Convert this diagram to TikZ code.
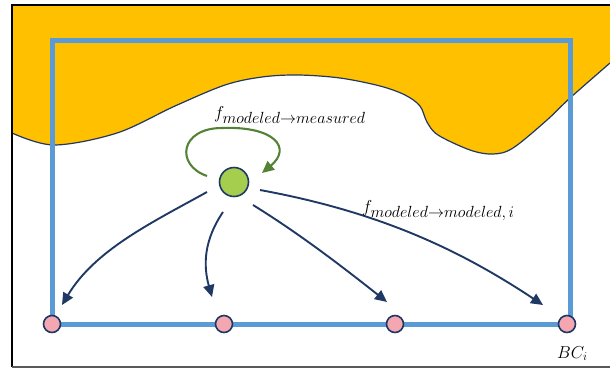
\documentclass[tikz,border=0pt]{standalone}
\usepackage{graphicx}
\usetikzlibrary{arrows.meta}

\definecolor{sand}{HTML}{FFC000}
\definecolor{edgeblue}{HTML}{5B9BD5}
\definecolor{navy}{HTML}{1F3864}
\definecolor{leaf}{HTML}{548235}
\definecolor{lime}{HTML}{A6CE4E}
\definecolor{rose}{HTML}{F4A6B1}

% subscript set at a size of its own
\newcommand{\bigsub}[1]{\mbox{\fontsize{14.4}{16}\selectfont\scalebox{1.12}{$#1$}}}

\begin{document}
\begin{tikzpicture}[x=1pt,y=-1pt,
  flow/.style={draw=navy, line width=1.9pt, -{Triangle[length=12pt,width=11pt]}},
  loopflow/.style={draw=leaf, line width=2.1pt, -{Triangle[length=12pt,width=11pt]}},
  boundary/.style={draw=edgeblue, line width=5pt},
  bcnode/.style={circle, draw=navy, fill=rose, line width=1.6pt, minimum size=17pt, inner sep=0pt},
  srcnode/.style={circle, draw=navy, fill=lime, line width=1.6pt, minimum size=29pt, inner sep=0pt},
  lbl/.style={inner sep=0pt, anchor=base west, font=\fontsize{18}{20}\selectfont}]
\useasboundingbox (0,0) rectangle (610,368);

% yellow region above the shoreline
\fill[sand] (12,5) -- plot[smooth,tension=0.55] coordinates {
  (12,133) (54,145) (117,133) (175,106) (225,85) (262,77) (298,75) (340,78) (380,86)
  (405,95) (420,106) (427,122) (438,135) (470,150) (493,154) (513,148)
  (547,120) (570,98) (610,63)} -- (610,5) -- cycle;
\draw[navy, line width=1.2pt] plot[smooth,tension=0.55] coordinates {
  (12,133) (54,145) (117,133) (175,106) (225,85) (262,77) (298,75) (340,78) (380,86)
  (405,95) (420,106) (427,122) (438,135) (470,150) (493,154) (513,148)
  (547,120) (570,98) (610,63)};

% outer frame
\draw[black, line width=2pt] (610,5) -- (12,5) -- (12,367);
\draw[black!65, line width=1.5pt] (12,367) -- (610,367);

% domain boundary
\draw[boundary] (52,40) rectangle (570,324);

% nodes
\node[srcnode] (src) at (234,182) {};
\node[bcnode] (b1) at (52,324) {};
\node[bcnode] (b2) at (224,324) {};
\node[bcnode] (b3) at (395,324) {};
\node[bcnode] (b4) at (567,324) {};

% connector ends, set off from the nodes
\coordinate (s0) at ([shift={(-27,-6)}]src.center);
\coordinate (t0) at ([shift={(28,-9)}]src.center);
\coordinate (looptop) at ([shift={(-12,-54)}]src.center);
\coordinate (s1) at ([shift={(-27,10)}]src.center);
\coordinate (s2) at ([shift={(-11,30)}]src.center);
\coordinate (s3) at ([shift={(19,23)}]src.center);
\coordinate (s4) at ([shift={(26,8)}]src.center);
\coordinate (t1) at ([shift={(10,-19)}]b1.center);
\coordinate (t2) at ([shift={(-12,-27)}]b2.center);
\coordinate (t3) at ([shift={(-8,-22)}]b3.center);
\coordinate (t4) at ([shift={(-24,-19)}]b4.center);

% self loop
\draw[loopflow] (s0) .. controls +(-32,-11) and +(-42,0) .. (looptop)
  .. controls +(53,-2) and +(30,-25) .. (t0);

% flows to the boundary points
\draw[flow] (s1) .. controls +(-56,31) and +(33,-55) .. (t1);
\draw[flow] (s2) .. controls +(-19,28) and +(-9,-32) .. (t2);
\draw[flow] (s3) .. controls +(47,29) and +(-43,-34) .. (t3);
\draw[flow] (s4) .. controls +(120,22) and +(-83,-55) .. (t4);

% labels
\node[lbl] (l1) at (214,118) {$f_{\bigsub{modeled{\to}measured}}$};
\node[lbl] (l2) at (362,212) {$f_{\bigsub{modeled{\to}modeled,i}}$};
\node[lbl, font=\fontsize{17}{20}\selectfont] (l3) at (557,358) {$BC_i$};
\end{tikzpicture}
\end{document}
